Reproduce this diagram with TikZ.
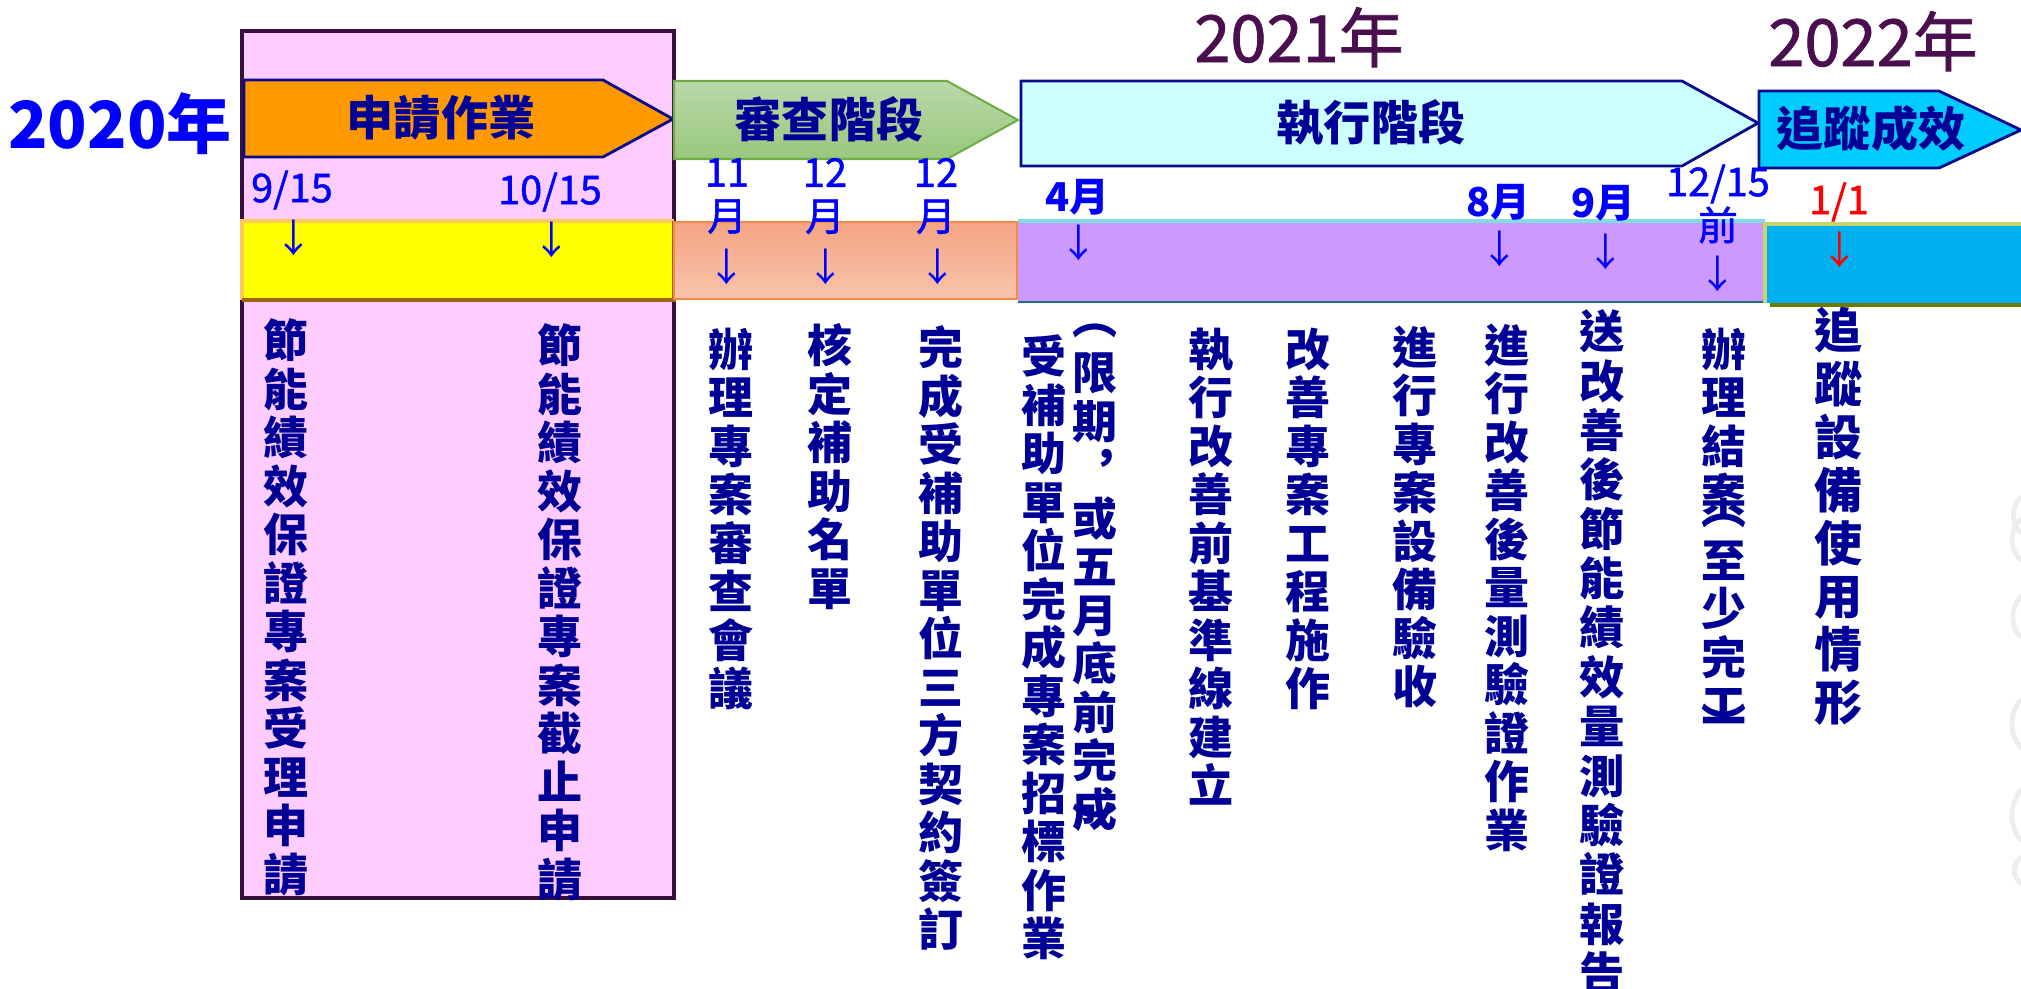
\documentclass[tikz,border=0pt]{standalone}
\usepackage{fontspec}
\newfontfamily\cjk{Noto Sans CJK TC}
\newfontfamily\cjkmid{Noto Sans CJK TC}[FakeBold=1.2]

\definecolor{navytext}{RGB}{0,0,150}
\definecolor{dateblue}{RGB}{0,0,255}
\definecolor{yearpurple}{RGB}{75,15,80}
\definecolor{boxpink}{RGB}{255,204,255}
\definecolor{boxline}{RGB}{55,15,60}
\definecolor{stageline}{RGB}{10,10,140}
\definecolor{applyorange}{RGB}{255,153,0}
\definecolor{reviewtop}{RGB}{186,216,170}
\definecolor{reviewbot}{RGB}{152,200,124}
\definecolor{reviewline}{RGB}{112,173,71}
\definecolor{execcyan}{RGB}{204,255,255}
\definecolor{trackblue}{RGB}{0,204,255}
\definecolor{bandyellow}{RGB}{255,255,0}
\definecolor{yellowtop}{RGB}{255,200,90}
\definecolor{yellowbot}{RGB}{160,100,20}
\definecolor{salmontop}{RGB}{244,164,130}
\definecolor{salmonbot}{RGB}{248,196,172}
\definecolor{salmonline}{RGB}{240,140,70}
\definecolor{bandpurple}{RGB}{204,153,255}
\definecolor{purpletop}{RGB}{128,222,224}
\definecolor{purplebot}{RGB}{30,112,128}
\definecolor{bandblue}{RGB}{0,176,240}
\definecolor{bluetop}{RGB}{195,214,107}
\definecolor{bluebot}{RGB}{107,123,0}

% one character per line, for the upright columns
\def\vstack#1{\vstackB#1\relax}
\def\vstackB#1#2{#1\ifx\relax#2\else\\\expandafter\vstackB\expandafter#2\fi}

\tikzset{
  stage/.style={draw=stageline, line width=0.8pt},
  stagelabel/.style={font=\cjk\bfseries\fontsize{13.4}{15}\selectfont, text=navytext, inner sep=0pt},
  yearlabel/.style={font=\cjkmid\fontsize{18.5}{20}\selectfont, text=yearpurple, anchor=base, inner sep=0pt},
  date/.style={font=\cjkmid\fontsize{11.3}{12.5}\selectfont, text=dateblue, align=center, inner sep=0pt},
  bolddate/.style={date, font=\cjk\bfseries\fontsize{11.3}{12.5}\selectfont},
  darr/.style={font=\cjk\fontsize{11}{12}\selectfont, text=dateblue, inner sep=0pt},
  vcol/.style={font=\cjk\bfseries\fontsize{12.8}{13.8}\selectfont, text=navytext, align=center, anchor=north, inner sep=0pt},
  vparen/.style={font=\cjk\bfseries\fontsize{12.8}{13.8}\selectfont, text=navytext, inner sep=0pt},
  smudge/.style={gray!14, line width=1.4pt, line cap=round},
}

\begin{document}
\begin{tikzpicture}[x=0.1mm, y=-0.1mm]
  \useasboundingbox (0,0) rectangle (2021,988);

  % application period frame
  \draw[fill=boxpink, draw=boxline, line width=1.15pt] (242,31) rectangle (674,898);

  % time bands
  \fill[bandyellow] (242,221) rectangle (674,300);
  \draw[yellowtop, line width=0.9pt] (242,300) -- (242,221) -- (674,221);
  \draw[yellowbot, line width=0.9pt] (674,221) -- (674,300) -- (242,300);
  \draw[salmonline, line width=0.6pt, top color=salmontop, bottom color=salmonbot]
    (674,222) rectangle (1017,299);
  \fill[bandpurple] (1018,221) rectangle (1765,302);
  \draw[purpletop, line width=1pt] (1018,221) -- (1765,221);
  \draw[purplebot, line width=0.8pt] (1018,302) -- (1765,302);
  \fill[bandblue] (1765,224) rectangle (2021,303);
  \draw[bluetop, line width=1pt] (1765,303) -- (1765,224) -- (2021,224);
  \draw[bluebot, line width=1pt] (1770,305) -- (2021,305);

  % stage arrows
  \draw[stage, fill=applyorange] (244,80) -- (603,80) -- (673,119) -- (603,157) -- (244,157) -- cycle;
  \draw[draw=reviewline, line width=0.6pt, top color=reviewtop, bottom color=reviewbot]
    (674,81) -- (947,81) -- (1018,120) -- (947,159) -- (674,159) -- cycle;
  \draw[stage, fill=execcyan] (1021,81) -- (1682,81) -- (1758,123) -- (1682,166) -- (1021,166) -- cycle;
  \draw[stage, fill=trackblue] (1759,91) -- (1939,91) -- (2021,130) -- (1939,168) -- (1759,168) -- cycle;
  \node[stagelabel] (apply) at (441,118) {申請作業};
  \node[stagelabel] (review) at (829,119) {審查階段};
  \node[stagelabel] (exec) at (1371,123) {執行階段};
  \node[stagelabel] (track) at (1871,129) {追蹤成效};

  % years
  \node[yearlabel, text=dateblue, font=\cjk\bfseries\fontsize{18.5}{20}\selectfont] (y2020) at (120,148) {2020年};
  \node[yearlabel] (y2021) at (1299,62) {2021年};
  \node[yearlabel] (y2022) at (1873,66) {2022年};

  % dates
  \node[date] (d0915) at (292,190) {9/15};
  \node[date] (d1015) at (550,192) {10/15};
  \node[date] (d11) at (727,196) {11\\月};
  \node[date] (d12) at (825,196) {12\\月};
  \node[date] (d12b) at (936,196) {12\\月};
  \node[bolddate] (d04) at (1077,197) {4月};
  \node[bolddate] (d08) at (1498,202) {8月};
  \node[bolddate] (d09) at (1603,203) {9月};
  \node[date] (d1215) at (1718,204) {12/15\\前};
  \node[date, text=red] (d0101) at (1839,202) {1/1};
  \node[darr] (a0915) at (294,238) {↓};
  \node[darr] (a1015) at (552,240) {↓};
  \node[darr] (a11) at (727,267) {↓};
  \node[darr] (a12) at (826,267) {↓};
  \node[darr] (a12b) at (938,267) {↓};
  \node[darr] (a04) at (1079,243) {↓};
  \node[darr] (a08) at (1500,249) {↓};
  \node[darr] (a09) at (1606,252) {↓};
  \node[darr] (a1215) at (1718,274) {↓};
  \node[darr, text=red] (a0101) at (1840,250) {↓};

  % tasks, written top to bottom
  \node[vcol] (c1) at (286,318) {\vstack{節能績效保證專案受理申請}};
  \node[vcol] (c2) at (560,323) {\vstack{節能績效保證專案截止申請}};
  \node[vcol] (c3) at (731,327) {\vstack{辦理專案審查會議}};
  \node[vcol] (c4) at (830,323) {\vstack{核定補助名單}};
  \node[vcol] (c5) at (941,325) {\vstack{完成受補助單位三方契約簽訂}};
  \node[vcol] (c6) at (1044,334) {\vstack{受補助單位完成專案招標作業}};
  \node[vcol] (c7) at (1095,352) {\vstack{限期︐或五月底前完成}};
  \node[vparen] (c7l) at (1095,331) {︵};
  \node[vparen] (c7r) at (1095,823) {︶};
  \node[vcol] (c8) at (1211,327) {\vstack{執行改善前基準線建立}};
  \node[vcol] (c9) at (1308,327) {\vstack{改善專案工程施作}};
  \node[vcol] (c10) at (1415,325) {\vstack{進行專案設備驗收}};
  \node[vcol] (c11) at (1507,323) {\vstack{進行改善後量測驗證作業}};
  \node[vcol, font=\cjk\bfseries\fontsize{12.9}{14.05}\selectfont] (c12) at (1602,309) {\vstack{送改善後節能績效量測驗證報告}};
  \node[vcol] (c13) at (1724,327) {\vstack{辦理結案}};
  \node[vparen] (c13l) at (1724,521) {︵};
  \node[vcol] (c13b) at (1724,540) {\vstack{至少完工}};
  \node[vparen] (c13r) at (1724,723) {︶};
  \node[vcol, font=\cjk\bfseries\fontsize{13.7}{15.1}\selectfont] (c14) at (1839,307) {\vstack{追蹤設備使用情形}};

  % faint marks cut off at the right edge
  \draw[smudge] (2021,497) .. controls (2011,505) and (2011,525) .. (2021,533);
  \draw[smudge] (2021,519) .. controls (2009,530) and (2009,550) .. (2021,560);
  \draw[smudge] (2021,597) .. controls (2010,607) and (2010,628) .. (2021,637);
  \draw[smudge] (2021,700) .. controls (2009,712) and (2009,736) .. (2021,747);
  \draw[smudge] (2021,790) .. controls (2009,803) and (2009,828) .. (2021,840);
  \draw[smudge] (2021,857) .. controls (2012,864) and (2012,877) .. (2021,883);
\end{tikzpicture}
\end{document}
